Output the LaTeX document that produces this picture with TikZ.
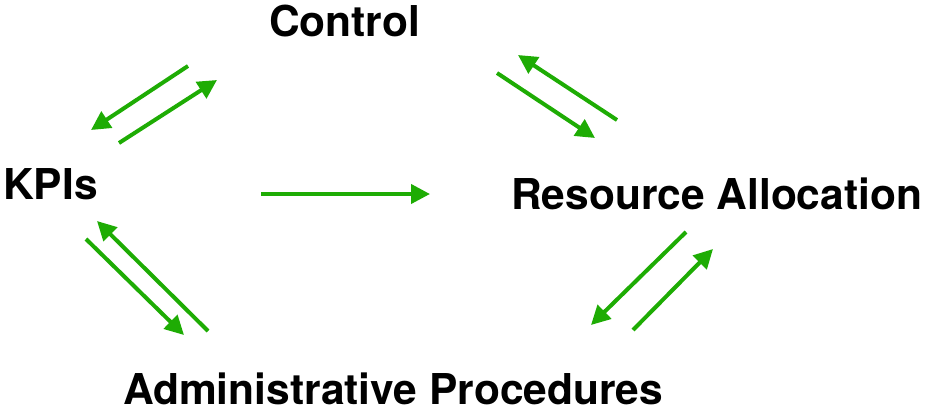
\documentclass[tikz,border=0pt]{standalone}
\usepackage{fontspec}
\setmainfont{TeX Gyre Heros}
\usetikzlibrary{arrows.meta}
\definecolor{flowgreen}{RGB}{30,172,4}
\tikzset{
  label/.style={inner sep=0pt, anchor=base west, font=\fontsize{42.5}{48}\selectfont\bfseries},
  flow/.style={draw=flowgreen, line width=4pt, -{Triangle[length=19pt,width=19pt]}}
}
\begin{document}
\begin{tikzpicture}[x=1pt,y=-1pt]
\useasboundingbox (0,0) rectangle (925,412);
% labels
\node[label] (ctrl) at (269,37) {Control};
\node[label] (kpi) at (3,199) {KPIs};
\node[label] (res) at (511,209) {Resource Allocation};
\node[label] (adm) at (123,404) {Administrative Procedures};
% arrow end points
\coordinate (c1s) at (188,66);  \coordinate (c1e) at (91,130);
\coordinate (c2s) at (119,143); \coordinate (c2e) at (217,80);
\coordinate (h1s) at (261,194); \coordinate (h1e) at (430,194);
\coordinate (a1s) at (208,331); \coordinate (a1e) at (97,221);
\coordinate (a2s) at (86,239);  \coordinate (a2e) at (184,335);
\coordinate (r1s) at (617,120); \coordinate (r1e) at (518,55);
\coordinate (r2s) at (497,73);  \coordinate (r2e) at (595,138);
\coordinate (b1s) at (686,232); \coordinate (b1e) at (591,325);
\coordinate (b2s) at (633,330); \coordinate (b2e) at (713,249);
% connectors
\draw[flow] (c1s) -- (c1e);
\draw[flow] (c2s) -- (c2e);
\draw[flow] (h1s) -- (h1e);
\draw[flow] (a1s) -- (a1e);
\draw[flow] (a2s) -- (a2e);
\draw[flow] (r1s) -- (r1e);
\draw[flow] (r2s) -- (r2e);
\draw[flow] (b1s) -- (b1e);
\draw[flow] (b2s) -- (b2e);
\end{tikzpicture}
\end{document}
